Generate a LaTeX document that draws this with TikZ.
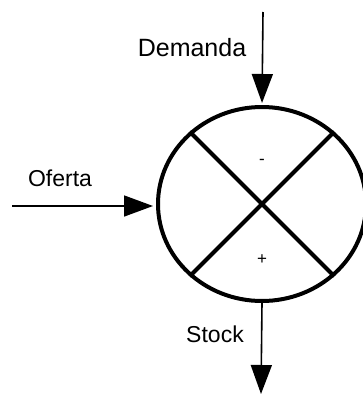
\documentclass[tikz,border=0pt]{standalone}
\usepackage{fontspec}
\setmainfont{Liberation Sans}
\usetikzlibrary{arrows.meta,shapes.geometric}

\begin{document}
\begin{tikzpicture}[>={Triangle[length=29pt,width=21pt]},x=1pt,y=-1pt,inner sep=0pt,
	flux/.style={line width=1.6pt,->},
	lab/.style={font=\fontsize{23}{27}\selectfont,anchor=base},
	sgn/.style={font=\fontsize{17}{19}\selectfont}]
\useasboundingbox (0,0) rectangle (363,394);
\node[ellipse,draw,line width=4pt,minimum width=208pt,minimum height=194pt] (S) at (262,204) {};
\coordinate (D) at (263,12);
\coordinate (O) at (12,206);
\coordinate (K) at (261,394);

%% "D" = demanda, "O" = oferta, "K" = stock

\draw[line width=4pt] (S.45)--(S.225);
\draw[line width=4pt] (S.135)--(S.315);
\draw[flux,shorten >=2pt] (D)--(S.north);
\draw[flux,shorten >=3pt] (O)--(S.west|-O);
\draw[flux] (S.south)--(K);
\node[lab,font=\fontsize{25}{29}\selectfont] (Dl) at (192,56) {Demanda};
\node[lab] (Ol) at (60,186) {Oferta};
\node[lab] (Kl) at (215,342) {Stock};
\node[sgn] (Mn) at (262,162) {-};
\node[sgn] (Pl) at (262,260) {+};
\end{tikzpicture}
\end{document}
